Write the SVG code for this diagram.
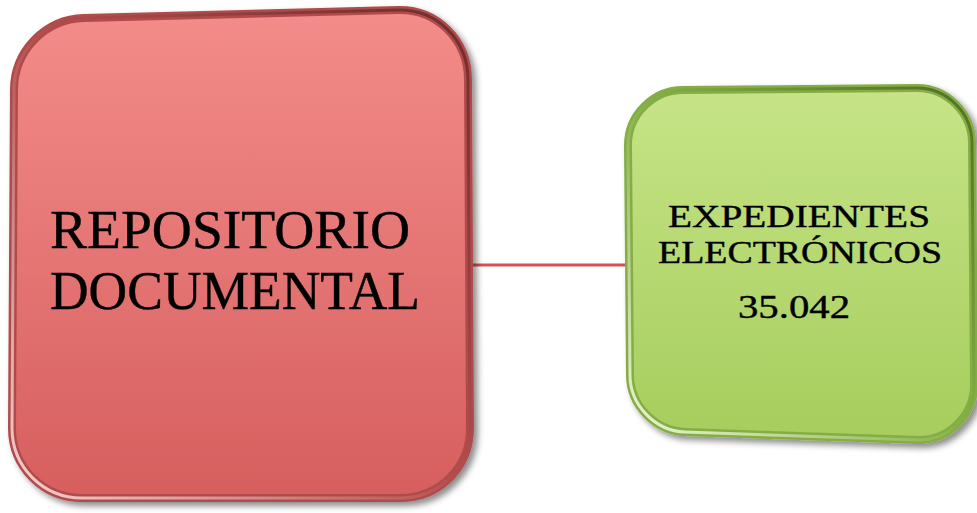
<svg xmlns="http://www.w3.org/2000/svg" width="977" height="513" viewBox="0 0 977 513">
  <defs>
    <linearGradient id="redFill" x1="0" y1="0" x2="0" y2="1">
      <stop offset="0" stop-color="#f38c8a"/>
      <stop offset="1" stop-color="#d65f5e"/>
    </linearGradient>
    <linearGradient id="greenFill" x1="0" y1="0" x2="0" y2="1">
      <stop offset="0" stop-color="#c6e487"/>
      <stop offset="1" stop-color="#a6cd5d"/>
    </linearGradient>
    <linearGradient id="redBevel" x1="1" y1="0" x2="0" y2="1">
      <stop offset="0" stop-color="#6e2b2b"/>
      <stop offset="0.5" stop-color="#b44e4e"/>
      <stop offset="1" stop-color="#f7d2d0"/>
    </linearGradient>
    <linearGradient id="greenBevel" x1="1" y1="0" x2="0" y2="1">
      <stop offset="0" stop-color="#4f6e22"/>
      <stop offset="0.5" stop-color="#86b146"/>
      <stop offset="1" stop-color="#eef8d8"/>
    </linearGradient>
    <filter id="shadow" x="-10%" y="-10%" width="125%" height="125%">
      <feDropShadow dx="4" dy="4" stdDeviation="3" flood-color="#000" flood-opacity="0.45"/>
    </filter>
  </defs>
  <style>
    .red-outer { fill: url(#redFill); stroke: #b04c4c; stroke-width: 8; }
    .red-inner { fill: none; stroke: url(#redBevel); stroke-width: 3; }
    .green-outer { fill: url(#greenFill); stroke: #84ad45; stroke-width: 8; }
    .green-inner { fill: none; stroke: url(#greenBevel); stroke-width: 3; }
    .lbl { font-family: "Liberation Serif", "Times New Roman", serif; fill: #000; stroke: #000; stroke-width: 0.4; }
    .conn { stroke: #d25353; stroke-width: 3; fill: none; }
  </style>

  <g id="connectors">
    <line class="conn" x1="468" y1="265" x2="630" y2="265"/>
  </g>

  <g id="node-repositorio">
    <path class="red-outer" filter="url(#shadow)" d="M 84,18 L 398,10 C 437,9 468,40 468,80 L 470,428 C 470,467 440,498 400,498 L 82,498 C 43,498 12,467 12,428 L 14,90 C 14,51 45,19 84,18 Z"/>
    <path class="red-inner" d="M 84,18 L 398,10 C 437,9 468,40 468,80 L 470,428 C 470,467 440,498 400,498 L 82,498 C 43,498 12,467 12,428 L 14,90 C 14,51 45,19 84,18 Z"/>
    <text class="lbl" x="50" y="248" font-size="55" textLength="360" lengthAdjust="spacingAndGlyphs">REPOSITORIO</text>
    <text class="lbl" x="50" y="309" font-size="55" textLength="370" lengthAdjust="spacingAndGlyphs">DOCUMENTAL</text>
  </g>

  <g id="node-expedientes">
    <path class="green-outer" filter="url(#shadow)" d="M 683,90 L 917,88 C 947,88 972,113 972,143 L 974,385 C 974,415 949,440 919,440 L 685,432 C 655,431 630,405 630,375 L 628,145 C 628,115 653,90 683,90 Z"/>
    <path class="green-inner" d="M 683,90 L 917,88 C 947,88 972,113 972,143 L 974,385 C 974,415 949,440 919,440 L 685,432 C 655,431 630,405 630,375 L 628,145 C 628,115 653,90 683,90 Z"/>
    <text class="lbl" x="668" y="227" font-size="31" textLength="262" lengthAdjust="spacingAndGlyphs">EXPEDIENTES</text>
    <text class="lbl" x="658" y="263" font-size="31" textLength="284" lengthAdjust="spacingAndGlyphs">ELECTRÓNICOS</text>
    <text class="lbl" x="738" y="318" font-size="33" textLength="112" lengthAdjust="spacingAndGlyphs">35.042</text>
  </g>
</svg>
